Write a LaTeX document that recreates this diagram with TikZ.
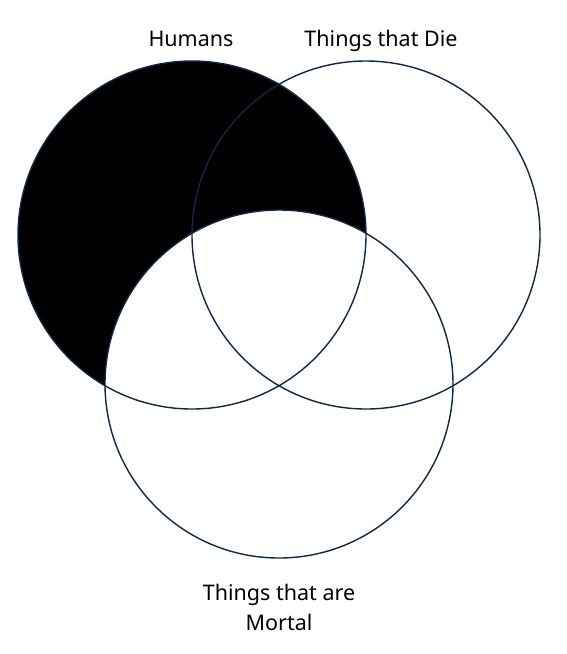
\documentclass[tikz,border=0pt]{standalone}
\usepackage{fontspec}
\setmainfont{Noto Sans}
\definecolor{setline}{HTML}{0E2841}
\begin{document}
\begin{tikzpicture}[x=1pt,y=-1pt,
        setedge/.style={draw=setline,line width=1.4pt},
        setlabel/.style={font=\fontsize{21.5}{30}\selectfont,inner sep=0pt}]
        \useasboundingbox (0,0) rectangle (567,654);
        \fill [black] (192,235) circle [radius=174pt];
        \fill [white] (279,384) circle [radius=174pt];
        \draw [setedge] (192,235) circle [radius=174pt];
        \draw [setedge] (366,235) circle [radius=174pt];
        \draw [setedge] (279,384) circle [radius=174pt];
        \node [setlabel,anchor=base] (humans) at (191,46) {Humans};
        \node [setlabel,anchor=base] (die) at (381,46) {Things that Die};
        \node [setlabel,align=center] (mortal) at (279,607) {Things that are\\Mortal};
    \end{tikzpicture}
\end{document}
